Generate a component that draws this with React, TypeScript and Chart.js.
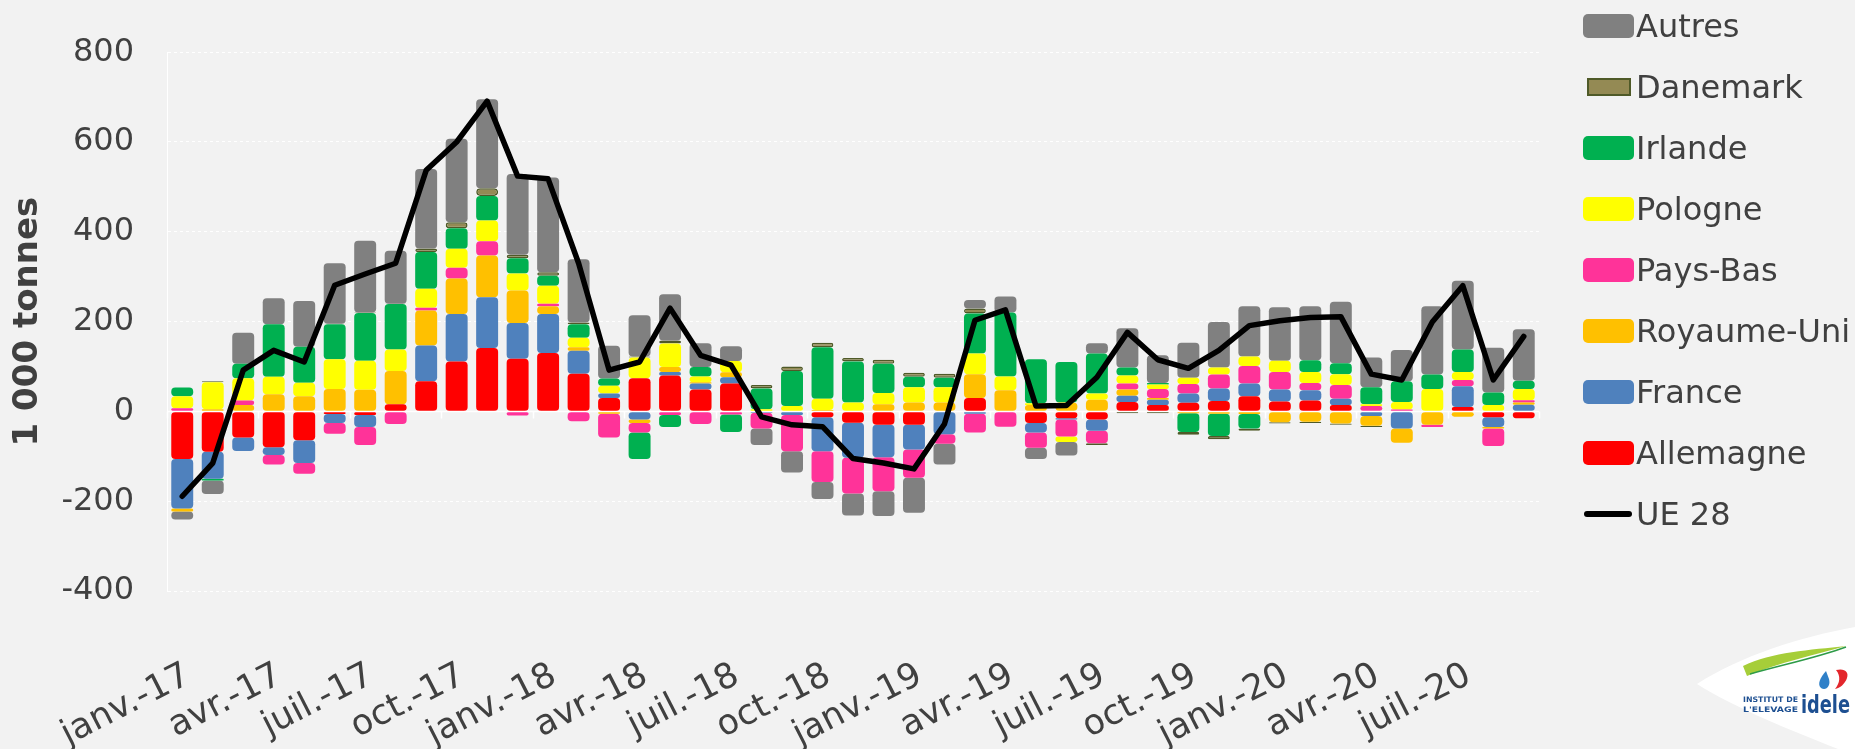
import React, { useEffect, useRef } from "react";
import { Chart, registerables } from "chart.js";

Chart.register(...registerables);

// ---------- DATA ----------
const MONTHS = [
  "janv.-17", "févr.-17", "mars-17", "avr.-17", "mai-17", "juin-17", "juil.-17", "août-17", "sept.-17", "oct.-17", "nov.-17", "déc.-17",
  "janv.-18", "févr.-18", "mars-18", "avr.-18", "mai-18", "juin-18", "juil.-18", "août-18", "sept.-18", "oct.-18", "nov.-18", "déc.-18",
  "janv.-19", "févr.-19", "mars-19", "avr.-19", "mai-19", "juin-19", "juil.-19", "août-19", "sept.-19", "oct.-19", "nov.-19", "déc.-19",
  "janv.-20", "févr.-20", "mars-20", "avr.-20", "mai-20", "juin-20", "juil.-20", "août-20", "sept.-20",
];

const ALLEMAGNE = [-106, -90, -58, -80, -64, -6, -8, 16, 67, 111, 141, 117, 130, 84, 30, 74, 80, 49, 62, 0, 0, -13, -25, -30, -30, 0, 30, 0, -26, -15, -18, 21, 14, 19, 23, 34, 22, 24, 14, 0, 0, 0, 10, -13, -15];
const FRANCE = [-110, -60, -30, -17, -51, -20, -27, 0, 80, 106, 113, 80, 87, 51, 10, -18, 8, 13, 14, -3, -8, -76, -78, -72, -55, -51, -5, 0, -21, -3, -25, 14, 12, 21, 28, 28, 27, 23, 14, -10, -38, 0, 46, -22, 15];
const ROYAUME_UNI = [-7, 5, 14, 38, 34, 50, 48, 74, 78, 79, 93, 72, 17, 8, -5, -8, 11, 3, 11, 0, 0, 3, 0, 16, 20, 20, 53, 47, 14, 20, 26, 14, 4, -4, -5, -6, -24, -23, -27, -22, -32, -30, -12, -3, 5];
const PAYS_BAS = [7, 0, 10, -21, -24, -24, -40, -28, 6, 24, 32, -9, 6, -22, -53, -21, -8, -28, -7, -35, -81, -68, -80, -76, -63, -21, -42, -34, -34, -38, -28, 13, 20, 21, 31, 39, 39, 16, 31, 12, 4, -5, 14, -39, 5];
const POLOGNE = [27, 60, 50, 39, 30, 66, 65, 48, 42, 42, 46, 38, 40, 21, 17, 46, 52, 13, 25, 5, 12, 25, 20, 25, 34, 34, 46, 31, 4, -12, 14, 18, 10, 14, 16, 21, 25, 25, 24, 4, 17, 50, 18, 14, 25];
const IRLANDE = [19, -4, 32, 117, 80, 78, 106, 101, 82, 46, 55, 34, 22, 30, 16, -59, -27, 21, -39, 46, 78, 115, 91, 65, 23, 21, 89, 142, 98, 90, 89, 18, 3, -42, -50, -32, 0, 26, 24, 38, 46, 32, 50, 28, 18];
const DANEMARK = [0, 2, 0, 0, 0, 1, 1, 1, 8, 13, 17, 8, 8, 4, 0, 2, 7, 0, 0, 8, 10, 10, 8, 9, 9, 9, 11, 0, 0, 0, -4, -4, -4, -6, -7, -5, -3, -3, -3, -3, 0, 0, 0, 0, 0];
const AUTRES = [-18, -30, 69, 58, 102, 135, 160, 118, 177, 186, 198, 180, 211, 141, 73, 92, 103, 53, 33, -37, -47, -38, -49, -55, -78, -46, 19, 36, -25, -30, 23, 87, 62, 78, 101, 112, 119, 120, 137, 66, 70, 152, 153, 100, 115];
const UE28 = [-189, -115, 92, 136, 110, 281, 306, 330, 537, 600, 691, 524, 518, 330, 92, 110, 230, 125, 103, -12, -30, -34, -105, -115, -128, -28, 203, 226, 12, 13, 76, 176, 115, 96, 136, 191, 202, 209, 211, 83, 70, 199, 280, 70, 167];

const Y_TICKS = [-400, -200, 0, 200, 400, 600, 800];

// ---------- STYLES ----------
const FONT = "'DejaVu Sans', sans-serif";
const TEXT = "#404040";

const BAR_SERIES = [
  { label: "Allemagne", data: ALLEMAGNE, color: "#FF0000" },
  { label: "France", data: FRANCE, color: "#4F81BD" },
  { label: "Royaume-Uni", data: ROYAUME_UNI, color: "#FFC000" },
  { label: "Pays-Bas", data: PAYS_BAS, color: "#FF3399" },
  { label: "Pologne", data: POLOGNE, color: "#FFFF00" },
  { label: "Irlande", data: IRLANDE, color: "#00B050" },
  { label: "Danemark", data: DANEMARK, color: "#948A54", border: "#4F5A28", borderWidth: 1.5 },
  { label: "Autres", data: AUTRES, color: "#808080" },
];

const LEGEND_ITEMS = [
  { label: "Autres", color: "#808080", kind: "box" },
  { label: "Danemark", color: "#948A54", kind: "dk" },
  { label: "Irlande", color: "#00B050", kind: "box" },
  { label: "Pologne", color: "#FFFF00", kind: "box" },
  { label: "Pays-Bas", color: "#FF3399", kind: "box" },
  { label: "Royaume-Uni", color: "#FFC000", kind: "box" },
  { label: "France", color: "#4F81BD", kind: "box" },
  { label: "Allemagne", color: "#FF0000", kind: "box" },
  { label: "UE 28", color: "#000000", kind: "line" },
];

const LINE_INDEX = BAR_SERIES.length;

const zeroLinePlugin = {
  id: "zeroLine",
  beforeDatasetDraw(chart: any, args: any) {
    if (args.index !== LINE_INDEX) return;
    const { ctx, chartArea, scales } = chart;
    const y = Math.round(scales.y.getPixelForValue(0)) + 0.5;
    const n = chart.data.labels.length;
    const w = (chartArea.right - chartArea.left) / n;
    ctx.save();
    ctx.strokeStyle = "#FFFFFF";
    ctx.lineWidth = 1.5;
    ctx.beginPath();
    ctx.moveTo(chartArea.left, y);
    ctx.lineTo(chartArea.right, y);
    for (let k = 0; k <= n; k += 3) {
      const x = Math.round(chartArea.left + k * w) + 0.5;
      ctx.moveTo(x, y);
      ctx.lineTo(x, y + 7);
    }
    ctx.stroke();
    ctx.restore();
  },
};

function App() {
  const canvasRef = useRef<HTMLCanvasElement | null>(null);

  useEffect(() => {
    if (!canvasRef.current) return;
    const radius = { topLeft: 4, topRight: 4, bottomLeft: 4, bottomRight: 4 };
    const datasets: any[] = BAR_SERIES.map((s: any) => ({
      type: "bar",
      label: s.label,
      data: s.data,
      backgroundColor: s.color,
      borderColor: s.border || s.color,
      borderWidth: s.borderWidth || 0,
      borderRadius: radius,
      borderSkipped: false,
      barPercentage: 0.72,
      categoryPercentage: 1,
      stack: "pays",
      order: 1,
    }));
    datasets.push({
      type: "line",
      label: "UE 28",
      data: UE28,
      borderColor: "#000000",
      backgroundColor: "#000000",
      borderWidth: 5.5,
      pointRadius: 0,
      tension: 0,
      borderJoinStyle: "round",
      borderCapStyle: "round",
      order: 0,
    });

    const chart = new Chart(canvasRef.current, {
      type: "bar",
      data: { labels: MONTHS, datasets },
      plugins: [zeroLinePlugin],
      options: {
        responsive: false,
        animation: false,
        events: [],
        layout: { padding: { top: 28.5, right: 316, bottom: 0, left: 0 } },
        plugins: {
          legend: { display: false },
          tooltip: { enabled: false },
          title: { display: false },
        },
        scales: {
          x: {
            stacked: true,
            offset: true,
            grid: { display: false, drawTicks: false },
            border: { display: false },
            afterFit: (scale: any) => {
              scale.height = 158;
              scale.paddingLeft = 0;
              scale.paddingRight = 0;
            },
            ticks: {
              autoSkip: false,
              minRotation: 27,
              maxRotation: 27,
              padding: 64,
              labelOffset: 6,
              color: TEXT,
              font: { family: FONT, size: 35 },
              callback: (_v: any, i: number) => (i % 3 === 0 ? MONTHS[i] : ""),
            },
          },
          y: {
            stacked: true,
            min: Y_TICKS[0],
            max: Y_TICKS[Y_TICKS.length - 1],
            afterFit: (scale: any) => {
              scale.width = 167;
            },
            afterBuildTicks: (scale: any) => {
              scale.ticks = Y_TICKS.map((v) => ({ value: v }));
            },
            grid: { color: "#FFFFFF", lineWidth: 1, drawTicks: false },
            border: { display: true, color: "#FFFFFF", width: 1, dash: [3, 3] },
            ticks: {
              padding: 33,
              color: TEXT,
              font: { family: FONT, size: 32 },
              callback: (v: any) => String(v),
            },
            title: {
              display: true,
              text: "1 000 tonnes",
              color: TEXT,
              font: { family: FONT, size: 34, weight: "bold" },
              padding: { top: 8, bottom: 0 },
            },
          },
        },
      } as any,
    } as any);

    return () => chart.destroy();
  }, []);

  return (
    <div
      style={{
        position: "fixed",
        left: 0,
        top: 0,
        width: 1855,
        height: 749,
        background: "#F2F2F2",
        overflow: "hidden",
        fontFamily: FONT,
      }}
    >
      <canvas ref={canvasRef} width={1855} height={749} style={{ position: "absolute", left: 0, top: 0 }} />
      {LEGEND_ITEMS.map((it, i) => {
        const cy = 26 + 61 * i;
        let marker: any;
        if (it.kind === "line") {
          marker = (
            <div style={{ position: "absolute", left: 1584, top: cy - 3, width: 48, height: 6, borderRadius: 3, background: it.color }} />
          );
        } else if (it.kind === "dk") {
          marker = (
            <div
              style={{
                position: "absolute",
                left: 1587,
                top: cy - 9,
                width: 44,
                height: 18,
                boxSizing: "border-box",
                border: "2px solid #4F5A28",
                background: it.color,
              }}
            />
          );
        } else {
          marker = (
            <div style={{ position: "absolute", left: 1583, top: cy - 12, width: 51, height: 24, borderRadius: 5, background: it.color }} />
          );
        }
        return (
          <React.Fragment key={it.label}>
            {marker}
            <div
              style={{
                position: "absolute",
                left: 1636,
                top: cy - 20,
                height: 40,
                lineHeight: "40px",
                fontSize: 32,
                color: TEXT,
                whiteSpace: "nowrap",
              }}
            >
              {it.label}
            </div>
          </React.Fragment>
        );
      })}
      <svg width={1855} height={749} style={{ position: "absolute", left: 0, top: 0, pointerEvents: "none" }}>
        <path d="M1697 684 C1740 656 1800 637 1855 627 L1855 749 L1838 749 C1790 730 1737 709 1697 684 Z" fill="#FFFFFF" />
        <path d="M1743 666 C1772 652 1810 650 1846 646 C1815 655 1780 662 1747 676 Z" fill="#A6CE39" />
        <path d="M1750 674 C1785 664 1816 658 1846 647" stroke="#2E9B48" strokeWidth={1.5} fill="none" />
        <path d="M1826 671 C1820 678 1817 684 1821 688 C1826 691 1831 686 1829 679 Z" fill="#2F80C8" />
        <path d="M1836 670 C1845 668 1849 672 1847 678 C1845 684 1840 688 1835 689 C1840 683 1841 676 1836 670 Z" fill="#E3262C" />
        <text x={1743} y={702} fontSize={7.5} fontWeight="bold" fill="#1D4F91" fontFamily={FONT} textLength={55} lengthAdjust="spacingAndGlyphs">
          INSTITUT DE
        </text>
        <text x={1743} y={712} fontSize={7.5} fontWeight="bold" fill="#1D4F91" fontFamily={FONT} textLength={55} lengthAdjust="spacingAndGlyphs">
          L'ELEVAGE
        </text>
        <text x={1801} y={713} fontSize={24} fontWeight="bold" fill="#1D4F91" fontFamily={FONT} textLength={49} lengthAdjust="spacingAndGlyphs">
          idele
        </text>
      </svg>
    </div>
  );
}

export default App;
